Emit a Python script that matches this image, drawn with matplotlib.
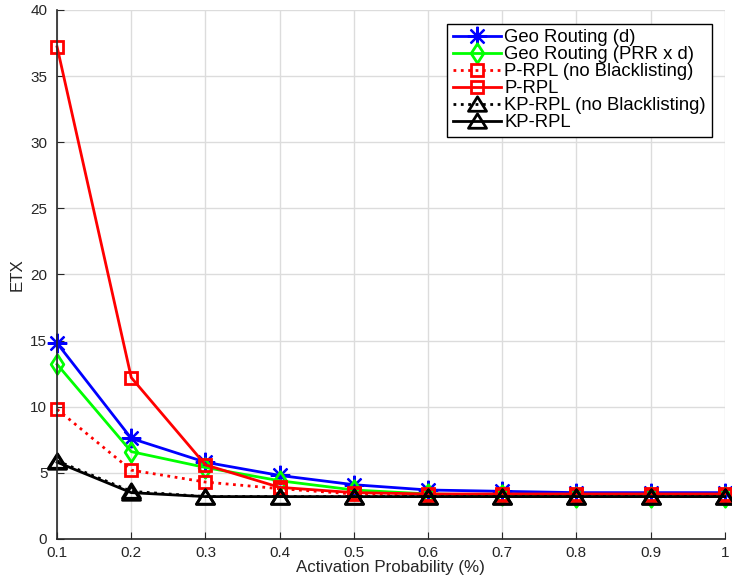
import matplotlib
matplotlib.use('Agg')
import matplotlib.pyplot as plt
from matplotlib.path import Path

plt.rcParams['font.family'] = ['Liberation Sans', 'DejaVu Sans']

prob = [0.1, 0.2, 0.3, 0.4, 0.5, 0.6, 0.7, 0.8, 0.9, 1.0]
geo_d = [14.8, 7.6, 5.8, 4.8, 4.1, 3.7, 3.6, 3.5, 3.5, 3.5]
geo_prr = [13.2, 6.6, 5.4, 4.4, 3.7, 3.4, 3.3, 3.2, 3.2, 3.2]
prpl_nobl = [9.8, 5.2, 4.3, 3.8, 3.4, 3.3, 3.3, 3.3, 3.3, 3.3]
prpl = [37.2, 12.2, 5.6, 3.9, 3.5, 3.4, 3.4, 3.4, 3.4, 3.4]
kprpl_nobl = [5.9, 3.6, 3.2, 3.2, 3.2, 3.2, 3.2, 3.2, 3.2, 3.2]
kprpl = [5.8, 3.5, 3.2, 3.2, 3.2, 3.2, 3.2, 3.2, 3.2, 3.2]

# matlab-like markers: tall diamond, wide triangle
diamond = Path([(0, 1), (0.65, 0), (0, -1), (-0.65, 0), (0, 1)], closed=True)
triangle = Path([(-1, -0.75), (1, -0.75), (0, 0.85), (-1, -0.75)], closed=True)

fig = plt.figure(figsize=(7.32, 5.82), dpi=100)
ax = fig.add_axes([0.078, 0.074, 0.912, 0.909])

common = dict(linewidth=2, markerfacecolor='none', markeredgewidth=2, clip_on=False)
ax.plot(prob, geo_d, color='#0000ff', marker=(8, 2, 0), markersize=14,
        label='Geo Routing (d)', **{**common, 'markeredgewidth': 1.6})
ax.plot(prob, geo_prr, color='#00ff00', marker=diamond, markersize=14,
        label='Geo Routing (PRR x d)', **common)
ax.plot(prob, prpl_nobl, color='#ff0000', marker='s', markersize=8, linestyle=':',
        label='P-RPL (no Blacklisting)', **common)
ax.plot(prob, prpl, color='#ff0000', marker='s', markersize=8, label='P-RPL', **common)
ax.plot(prob, kprpl_nobl, color='black', marker=triangle, markersize=13, linestyle=':',
        label='KP-RPL (no Blacklisting)', **common)
ax.plot(prob, kprpl, color='black', marker=triangle, markersize=13, label='KP-RPL',
        **common)

ax.set_xlim(0.1, 1.0)
ax.set_ylim(0, 40)
ax.set_xticks(prob)
ax.set_xticklabels(['0.1', '0.2', '0.3', '0.4', '0.5', '0.6', '0.7', '0.8', '0.9', '1'])
ax.set_yticks(range(0, 41, 5))
ax.grid(True, color='#dcdcdc', linewidth=1)
ax.set_axisbelow(True)
for s in ['top', 'right']:
    ax.spines[s].set_visible(False)
for s in ['left', 'bottom']:
    ax.spines[s].set_color('#262626')
    ax.spines[s].set_linewidth(1.2)
ax.tick_params(direction='in', length=5, colors='#262626', labelsize=11)
ax.tick_params(axis='y', pad=7)
ax.tick_params(axis='x', pad=5)
ax.set_xlabel('Activation Probability (%)', fontsize=12.2, color='#262626', labelpad=0)
ax.set_ylabel('ETX', fontsize=12.2, color='#262626', labelpad=4)

leg = ax.legend(loc='upper right', bbox_to_anchor=(0.9805, 0.9735), fontsize=13.3,
                frameon=True, fancybox=False, handlelength=2.6, handletextpad=0.2,
                labelspacing=0.0, borderpad=0.3, borderaxespad=0)
leg.get_frame().set_edgecolor('black')
leg.get_frame().set_linewidth(1)
leg.get_frame().set_alpha(1)

fig.savefig('out.png', dpi=100)
